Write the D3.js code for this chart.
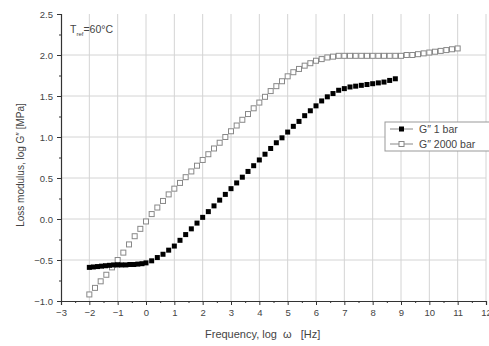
<!DOCTYPE html>
<html>
<head>
<meta charset="utf-8">
<script src="https://cdn.jsdelivr.net/npm/d3@7"></script>
<style>
  body { margin: 0; background: #fff; }
  text { font-family: "Liberation Sans", Arial, sans-serif; }
</style>
</head>
<body>
<div id="chart"></div>
<script>
// log omega values and log G'' values
const x2000 = [-2.0,-1.8,-1.6,-1.4,-1.2,-1.0,-0.8,-0.6,-0.4,-0.2,0.0,0.2,0.4,0.6,0.8,1.0,1.2,1.4,1.6,1.8,
  2.0,2.2,2.4,2.6,2.8,3.0,3.2,3.4,3.6,3.8,4.0,4.2,4.4,4.6,4.8,5.0,5.2,5.4,5.6,5.8,
  6.0,6.2,6.4,6.6,6.8,7.0,7.2,7.4,7.6,7.8,8.0,8.2,8.4,8.6,8.8,9.0,9.2,9.4,9.6,9.8,
  10.0,10.2,10.4,10.6,10.8,11.0];
const g2000 = [-0.92,-0.84,-0.76,-0.68,-0.59,-0.50,-0.41,-0.31,-0.21,-0.12,-0.03,0.06,0.14,0.22,0.30,0.37,0.44,0.51,0.58,0.65,
  0.72,0.79,0.86,0.93,1.00,1.07,1.14,1.21,1.28,1.35,1.42,1.49,1.56,1.62,1.68,1.74,1.79,1.83,1.87,1.90,
  1.93,1.95,1.97,1.98,1.99,1.99,1.99,1.99,1.99,1.99,1.99,1.99,1.99,1.99,1.99,1.99,2.00,2.00,2.01,2.02,
  2.03,2.04,2.05,2.06,2.07,2.08];

const x1bar = [-2.0,-1.86,-1.71,-1.57,-1.43,-1.29,-1.14,-1.0,-0.86,-0.71,-0.57,-0.43,-0.29,-0.14,0.0,
  0.2,0.4,0.6,0.8,1.0,1.2,1.4,1.6,1.8,2.0,2.2,2.4,2.6,2.8,3.0,3.2,3.4,3.6,3.8,
  4.0,4.2,4.4,4.6,4.8,5.0,5.2,5.4,5.6,5.8,6.0,6.2,6.4,6.6,6.8,7.0,7.2,7.4,7.6,7.8,
  8.0,8.2,8.4,8.6,8.8];
const g1bar = [-0.59,-0.585,-0.58,-0.575,-0.57,-0.565,-0.56,-0.56,-0.56,-0.56,-0.555,-0.555,-0.55,-0.545,-0.535,
  -0.51,-0.47,-0.43,-0.38,-0.33,-0.26,-0.19,-0.12,-0.05,0.02,0.09,0.16,0.23,0.30,0.37,0.44,0.51,0.58,0.65,
  0.72,0.79,0.86,0.93,0.99,1.06,1.13,1.19,1.26,1.32,1.38,1.44,1.49,1.53,1.57,1.59,1.61,1.62,1.63,1.64,
  1.65,1.66,1.67,1.69,1.71];

const xTicks = d3.range(-3, 13, 1);
const yTicks = [-1.0, -0.5, 0.0, 0.5, 1.0, 1.5, 2.0, 2.5];
const seriesNames = ["G\u2033 1 bar", "G\u2033 2000 bar"];

const W = 489, H = 346;
const margin = {top: 14, right: 3, bottom: 45, left: 61};

const svg = d3.select("#chart").append("svg")
  .attr("width", W).attr("height", H);

const x = d3.scaleLinear().domain([-3, 12]).range([margin.left, W - margin.right]);
const y = d3.scaleLinear().domain([-1, 2.5]).range([H - margin.bottom, margin.top]);

// grid
svg.append("g").selectAll("line")
  .data(xTicks.filter(d => d > -3))
  .join("line")
    .attr("x1", d => x(d)).attr("x2", d => x(d))
    .attr("y1", y(2.5)).attr("y2", y(-1))
    .attr("stroke", "#d4d4d4").attr("stroke-width", 1);
svg.append("g").selectAll("line")
  .data(yTicks.filter(d => d > -1 && d < 2.5))
  .join("line")
    .attr("x1", x(-3)).attr("x2", x(12))
    .attr("y1", d => y(d)).attr("y2", d => y(d))
    .attr("stroke", "#d4d4d4").attr("stroke-width", 1);

// axes
svg.append("g")
  .attr("transform", `translate(0, ${y(-1)})`)
  .call(d3.axisBottom(x).tickValues(xTicks).tickSize(4).tickPadding(4).tickFormat(d3.format("d")));
svg.append("g")
  .attr("transform", `translate(0, ${y(-1)})`)
  .call(d3.axisBottom(x).tickValues(d3.range(-2.5, 12, 1)).tickSize(2).tickFormat(""))
  .select(".domain").remove();
svg.append("g")
  .attr("transform", `translate(${x(-3)}, 0)`)
  .call(d3.axisLeft(y).tickValues(yTicks).tickSize(4).tickPadding(4).tickFormat(d3.format(".1f")));
svg.append("g")
  .attr("transform", `translate(${x(-3)}, 0)`)
  .call(d3.axisLeft(y).tickValues(d3.range(-0.75, 2.5, 0.5)).tickSize(2).tickFormat(""))
  .select(".domain").remove();

svg.selectAll(".domain").attr("stroke", "#333").attr("stroke-width", 1.2);
svg.selectAll(".tick line").attr("stroke", "#333");
svg.selectAll(".tick text").attr("fill", "#444").style("font-size", "9.5px");

// axis titles
svg.append("text")
  .attr("x", 205).attr("y", 338)
  .attr("fill", "#444").style("font-size", "11px")
  .style("white-space", "pre")
  .text("Frequency, log  \u03c9   [Hz]");
svg.append("text")
  .attr("transform", "translate(24, 165) rotate(-90)")
  .attr("text-anchor", "middle")
  .attr("fill", "#444").style("font-size", "10px")
  .text("Loss modulus, log G\u2033 [MPa]");

// annotation
const ann = svg.append("text")
  .attr("x", 70).attr("y", 33)
  .attr("fill", "#444").style("font-size", "10.5px");
ann.append("tspan").text("T");
ann.append("tspan").attr("dy", 3).style("font-size", "6px").text("ref");
ann.append("tspan").attr("dy", -3).text("=60\u00b0C");

// data
const s = 5;
const d2000 = x2000.map((v, i) => [v, g2000[i]]);
const d1 = x1bar.map((v, i) => [v, g1bar[i]]);

svg.append("g").selectAll("rect")
  .data(d2000)
  .join("rect")
    .attr("x", d => x(d[0]) - s / 2).attr("y", d => y(d[1]) - s / 2)
    .attr("width", s).attr("height", s)
    .attr("fill", "#fff").attr("stroke", "#888").attr("stroke-width", 1);

svg.append("g").selectAll("rect")
  .data(d1)
  .join("rect")
    .attr("x", d => x(d[0]) - s / 2).attr("y", d => y(d[1]) - s / 2)
    .attr("width", s).attr("height", s)
    .attr("fill", "#000");

// legend
const lg = svg.append("g").attr("transform", "translate(385, 122)");
lg.append("rect")
  .attr("width", 110).attr("height", 29)
  .attr("fill", "#fff").attr("stroke", "#999");
seriesNames.forEach((name, i) => {
  const yy = 7 + i * 15;
  lg.append("line")
    .attr("x1", 5).attr("x2", 28).attr("y1", yy).attr("y2", yy)
    .attr("stroke", "#888");
  lg.append("rect")
    .attr("x", 16.5 - s / 2).attr("y", yy - s / 2).attr("width", s).attr("height", s)
    .attr("fill", i === 0 ? "#000" : "#fff")
    .attr("stroke", i === 0 ? "none" : "#888");
  lg.append("text")
    .attr("x", 34).attr("y", yy + 4)
    .attr("fill", "#444").style("font-size", "10.5px")
    .text(name);
});
</script>
</body>
</html>
